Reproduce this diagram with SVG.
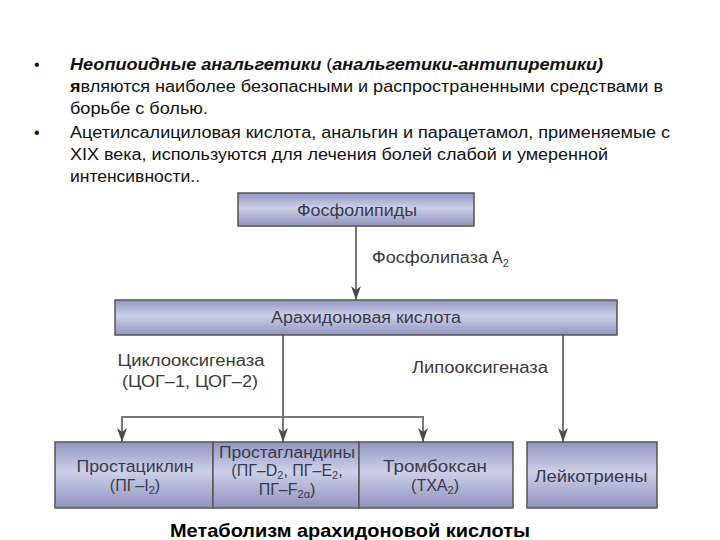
<svg xmlns="http://www.w3.org/2000/svg" width="720" height="540" viewBox="0 0 720 540">
<defs>
<linearGradient id="g" x1="0" y1="0" x2="0" y2="1">
<stop offset="0" stop-color="#9097c2"/>
<stop offset="0.45" stop-color="#cdd0e8"/>
<stop offset="1" stop-color="#8e93bd"/>
</linearGradient>
<marker id="ah" viewBox="0 0 14 10" refX="14" refY="5" markerWidth="14" markerHeight="10" markerUnits="userSpaceOnUse" orient="auto">
<path d="M0,0 L4,5 L0,10 L14,5 Z" fill="#4a4a4a"/>
</marker>
</defs>
<style>
.b{font-family:"Liberation Sans",Arial,sans-serif;font-size:16px;fill:#111}
.box{fill:url(#g);stroke:#555;stroke-width:1.5}
.t{font-family:"Liberation Sans",Arial,sans-serif;font-size:16px;fill:#3a3a4c;text-anchor:middle}
.l{font-family:"Liberation Sans",Arial,sans-serif;font-size:16px;fill:#3a3a3a}
.c{stroke:#777;stroke-width:2;fill:none}
</style>
<g id="text">
<text class="b" x="34" y="70">•</text>
<text class="b" x="70" y="70" textLength="533" lengthAdjust="spacingAndGlyphs"><tspan font-weight="bold" font-style="italic">Неопиоидные анальгетики</tspan> (<tspan font-style="italic" font-weight="bold">анальгетики-антипиретики)</tspan></text>
<text class="b" x="70" y="92" textLength="593" lengthAdjust="spacingAndGlyphs"><tspan font-weight="bold">я</tspan>вляются наиболее безопасными и распространенными средствами в</text>
<text class="b" x="70" y="114" textLength="138" lengthAdjust="spacingAndGlyphs">борьбе с болью.</text>
<text class="b" x="34" y="138">•</text>
<text class="b" x="70" y="138" textLength="600" lengthAdjust="spacingAndGlyphs">Ацетилсалициловая кислота, анальгин и парацетамол, применяемые с</text>
<text class="b" x="70" y="160" textLength="538" lengthAdjust="spacingAndGlyphs">XIX века, используются для лечения болей слабой и умеренной</text>
<text class="b" x="70" y="182" textLength="130" lengthAdjust="spacingAndGlyphs">интенсивности..</text>
</g>
<g id="connectors">
<line class="c" x1="356" y1="226" x2="356" y2="300" marker-end="url(#ah)"/>
<line class="c" x1="283" y1="335" x2="283" y2="442" marker-end="url(#ah)"/>
<line class="c" x1="121" y1="417" x2="424" y2="417"/>
<line class="c" x1="122" y1="416" x2="122" y2="442" marker-end="url(#ah)"/>
<line class="c" x1="423" y1="416" x2="423" y2="442" marker-end="url(#ah)"/>
<line class="c" x1="563" y1="335" x2="563" y2="442" marker-end="url(#ah)"/>
<text class="l" x="372" y="263" textLength="116" lengthAdjust="spacingAndGlyphs">Фосфолипаза</text>
<text class="l" x="492" y="263">A<tspan font-size="11" dy="4">2</tspan></text>
<text class="l" x="191" y="366" text-anchor="middle" textLength="147" lengthAdjust="spacingAndGlyphs">Циклооксигеназа</text>
<text class="l" x="190" y="387" text-anchor="middle" textLength="136" lengthAdjust="spacingAndGlyphs">(ЦОГ–1, ЦОГ–2)</text>
<text class="l" x="480" y="373" text-anchor="middle" textLength="136" lengthAdjust="spacingAndGlyphs">Липооксигеназа</text>
</g>
<g id="n-phospholipids">
<rect class="box" x="238" y="193" width="236" height="33"/>
<text class="t" x="357" y="216" textLength="120" lengthAdjust="spacingAndGlyphs">Фосфолипиды</text>
</g>
<g id="n-arachidonic">
<rect class="box" x="115" y="300" width="502" height="35"/>
<text class="t" x="366" y="323" textLength="190" lengthAdjust="spacingAndGlyphs">Арахидоновая кислота</text>
</g>
<g id="n-prostacyclin">
<rect class="box" x="55" y="442" width="158" height="66"/>
<text class="t" x="135" y="472" textLength="117" lengthAdjust="spacingAndGlyphs">Простациклин</text>
<text class="t" x="135" y="491">(ПГ–I<tspan font-size="11" dy="3">2</tspan><tspan dy="-3">)</tspan></text>
</g>
<g id="n-prostaglandins">
<rect class="box" x="213" y="442" width="146" height="66"/>
<text class="t" x="287" y="458" textLength="136" lengthAdjust="spacingAndGlyphs">Простагландины</text>
<text class="t" x="287" y="476">(ПГ–D<tspan font-size="11" dy="3">2</tspan><tspan dy="-3">, ПГ–E</tspan><tspan font-size="11" dy="3">2</tspan><tspan dy="-3">,</tspan></text>
<text class="t" x="287" y="495">ПГ–F<tspan font-size="11" dy="3">2α</tspan><tspan dy="-3">)</tspan></text>
</g>
<g id="n-thromboxane">
<rect class="box" x="359" y="442" width="154" height="66"/>
<text class="t" x="435" y="472" textLength="104" lengthAdjust="spacingAndGlyphs">Тромбоксан</text>
<text class="t" x="435" y="491">(TXA<tspan font-size="11" dy="3">2</tspan><tspan dy="-3">)</tspan></text>
</g>
<g id="n-leukotrienes">
<rect class="box" x="527" y="442" width="130" height="66"/>
<text class="t" x="591" y="482" textLength="113" lengthAdjust="spacingAndGlyphs">Лейкотриены</text>
</g>
<text x="350" y="537" text-anchor="middle" font-family="Liberation Sans, Arial, sans-serif" font-size="19" font-weight="bold" fill="#000" textLength="360" lengthAdjust="spacingAndGlyphs">Метаболизм арахидоновой кислоты</text>
</svg>
